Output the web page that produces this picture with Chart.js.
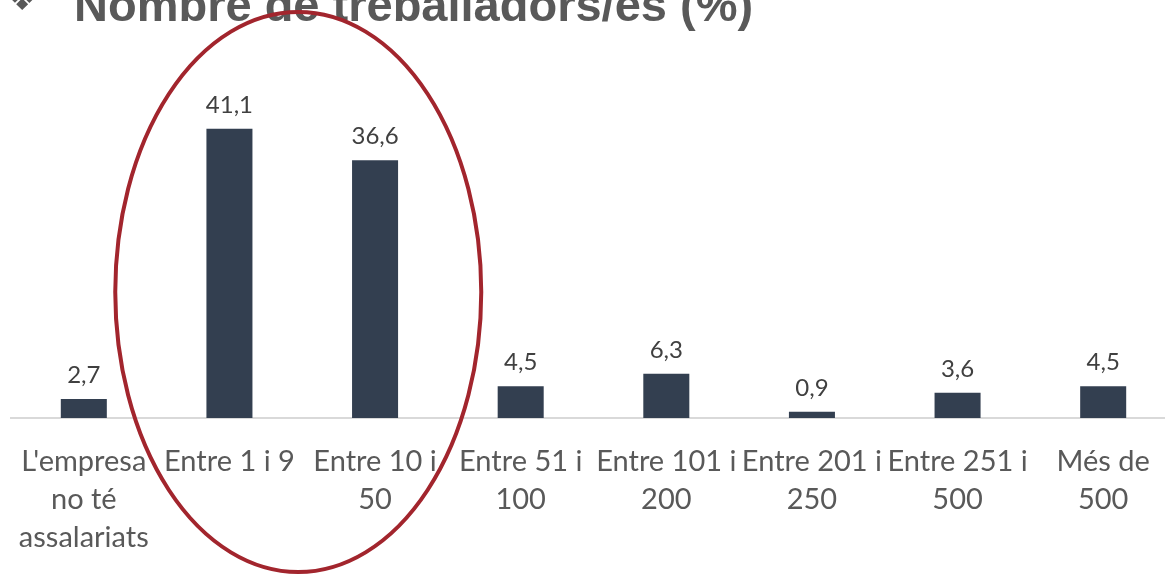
<!DOCTYPE html>
<html>
<head>
<meta charset="utf-8">
<script src="https://cdn.jsdelivr.net/npm/chart.js@4"></script>
<style>
  html, body { margin: 0; padding: 0; background: #fff; overflow: hidden; }
  canvas { display: block; }
</style>
</head>
<body>
<canvas id="myChart" width="1180" height="574"></canvas>
<script>
// dades
var categories = [
  ["L'empresa", "no té", "assalariats"],
  ["Entre 1 i 9"],
  ["Entre 10 i", "50"],
  ["Entre 51 i", "100"],
  ["Entre 101 i", "200"],
  ["Entre 201 i", "250"],
  ["Entre 251 i", "500"],
  ["Més de", "500"]
];
var percentatges = [2.7, 41.1, 36.6, 4.5, 6.3, 0.9, 3.6, 4.5];
var titol = "Nombre de treballadors/es (%)";
var destacats = [1, 2]; // categories dins l'el·lipse

Chart.defaults.font.family = "Lato, 'Noto Sans', sans-serif";

// titol (retallat a dalt, com a la imatge)
var titolPlugin = {
  id: 'titol',
  afterDraw: function (chart) {
    var c = chart.ctx;
    c.save();
    c.fillStyle = '#595959';
    c.textBaseline = 'alphabetic';
    c.font = "36px 'DejaVu Sans'";
    c.fillText('\u2756', 6, 10);
    c.font = "bold 47px 'Liberation Sans', Arial, sans-serif";
    c.fillText(titol, 74, 21);
    c.restore();
  }
};

// etiquetes de valor
var etiquetes = {
  id: 'etiquetes',
  afterDatasetsDraw: function (chart) {
    var c = chart.ctx;
    var meta = chart.getDatasetMeta(0);
    c.save();
    c.fillStyle = '#404040';
    c.font = "24px Lato, 'Noto Sans', sans-serif";
    c.textAlign = 'center';
    c.textBaseline = 'alphabetic';
    meta.data.forEach(function (bar, i) {
      c.fillText(percentatges[i].toFixed(1).replace('.', ','), bar.x, bar.y - 16);
    });
    c.restore();
  }
};

// el·lipse vermella
var ellipse = {
  id: 'ellipse',
  afterDraw: function (chart) {
    var x = chart.scales.x;
    var cx = (x.getPixelForValue(destacats[0]) + x.getPixelForValue(destacats[1])) / 2;
    var c = chart.ctx;
    c.save();
    c.strokeStyle = '#A2252D';
    c.lineWidth = 4;
    c.beginPath();
    c.ellipse(cx - 4, 292, 183, 280, 0, 0, Math.PI * 2);
    c.stroke();
    c.restore();
  }
};

var ctx = document.getElementById('myChart');

var myChart = new Chart(ctx, {
  type: 'bar',
  data: {
    labels: categories,
    datasets: [{
      data: percentatges,
      backgroundColor: '#333F50',
      borderWidth: 0,
      barPercentage: 0.316,
      categoryPercentage: 1
    }]
  },
  options: {
    responsive: false,
    animation: false,
    layout: { padding: { left: 11, right: 4, top: 66, bottom: 0 } },
    plugins: {
      legend: { display: false },
      tooltip: { enabled: false }
    },
    scales: {
      x: {
        grid: { display: false },
        border: { display: true, color: '#D9D9D9', width: 2 },
        ticks: {
          color: '#595959',
          font: { size: 29, lineHeight: 1.31 },
          maxRotation: 0,
          autoSkip: false,
          padding: 17
        }
      },
      y: {
        display: false,
        min: 0,
        max: 50
      }
    }
  },
  plugins: [titolPlugin, etiquetes, ellipse]
});
</script>
</body>
</html>
